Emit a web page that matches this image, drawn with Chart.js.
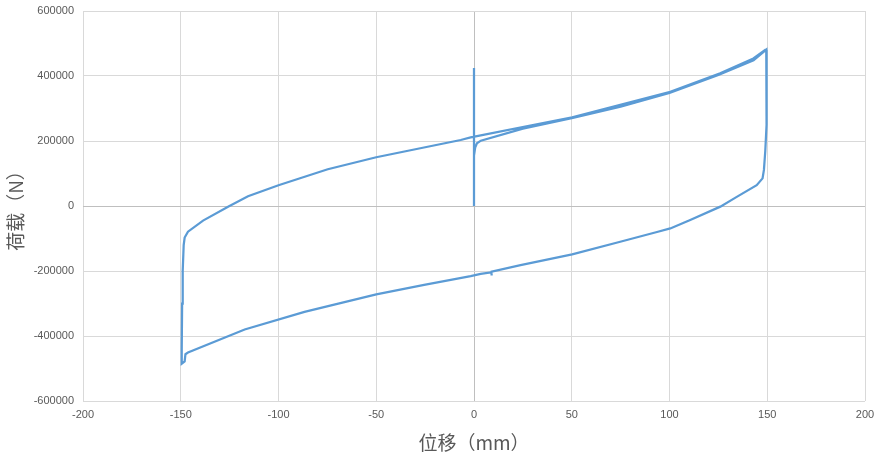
<!DOCTYPE html>
<html>
<head>
<meta charset="utf-8">
<script src="https://cdn.jsdelivr.net/npm/chart.js@4"></script>
<style>
  html, body { margin: 0; padding: 0; background: #fff; }
  #wrap { width: 877px; height: 458px; }
</style>
</head>
<body>
<div id="wrap"><canvas id="loop"></canvas></div>
<script>
// 位移 (mm) and 荷载 (N) in drawing order
const dispMm = [
    0, 0, 0, 0.6, 1.5, 3.5, 25, 50, 75, 100, 125, 143, 149.5,
    149.8, 149.5, 149, 148.3, 147.6, 144.6, 134.4, 126, 110.6, 100.4, 93.6, 74.8, 50.2, 23.8,
    9, 9, 9, 3.4, -1.7, -25.5, -50, -86.7, -117.3, -146.3, -147.6, -148, -149.5,
    -149.5, -149.3, -149, -148.5, -148, -146.3, -138.6, -125.8, -115.6, -100, -74.8, -50,
    -6.8, -1.7, 50.2, 74.8, 100.4, 125.9, 142.9, 149.3
];
const loadN = [
    0, 425000, 155000, 180000, 193000, 201000, 238000, 270000, 306000, 348000, 403000, 448000, 481000,
    400000, 250000, 170000, 111000, 85000, 64000, 28000, -2000, -43000, -69000, -80000, -110000, -149000, -182000,
    -202000, -214000, -204000, -209000, -216000, -243000, -272000, -326000, -380000, -451000, -456000, -478000, -485000,
    -440000, -300000, -200000, -120000, -97000, -79000, -45000, -2000, 30000, 64000, 113000, 150000,
    203000, 211000, 273000, 311000, 351000, 408000, 454000, 482000
];
const xRange = [-200, 200, 50];
const yRange = [-600000, 600000, 200000];

const points = dispMm.map((d, i) => ({ x: d, y: loadN[i] }));

const gridColor = function (ctx) {
    return ctx.tick && ctx.tick.value === 0 ? '#bfbfbf' : '#d9d9d9';
};
const plainNum = function (v) { return String(v); };

new Chart(document.getElementById('loop'), {
    type: 'scatter',
    data: {
        datasets: [{
            data: points,
            showLine: true,
            borderColor: '#5b9bd5',
            borderWidth: 2.25,
            pointRadius: 0,
            tension: 0
        }]
    },
    options: {
        responsive: true,
        maintainAspectRatio: false,
        animation: false,
        layout: { padding: 0 },
        plugins: { legend: { display: false }, tooltip: { enabled: false } },
        scales: {
            x: {
                min: xRange[0], max: xRange[1],
                ticks: { stepSize: xRange[2], callback: plainNum, color: '#595959', font: { family: 'Liberation Sans', size: 11 }, padding: 7 },
                grid: { color: gridColor, drawTicks: false, lineWidth: 1 },
                border: { display: false },
                title: { display: true, text: '位移（mm）', color: '#595959', font: { family: 'Noto Sans CJK SC', size: 19 }, padding: { top: 7 } },
                afterFit: function (scale) { scale.height = 57; scale.paddingRight = 12; scale.paddingLeft = 0; }
            },
            y: {
                min: yRange[0], max: yRange[1],
                ticks: { stepSize: yRange[2], callback: plainNum, color: '#595959', font: { family: 'Liberation Sans', size: 11 }, padding: 9 },
                grid: { color: gridColor, drawTicks: false, lineWidth: 1 },
                border: { display: false },
                title: { display: true, text: '荷载（N）', color: '#595959', font: { family: 'Noto Sans CJK SC', size: 19 }, padding: { bottom: 8 } },
                afterFit: function (scale) { scale.width = 83; scale.paddingTop = 11; scale.paddingBottom = 0; }
            }
        }
    }
});
</script>
</body>
</html>
